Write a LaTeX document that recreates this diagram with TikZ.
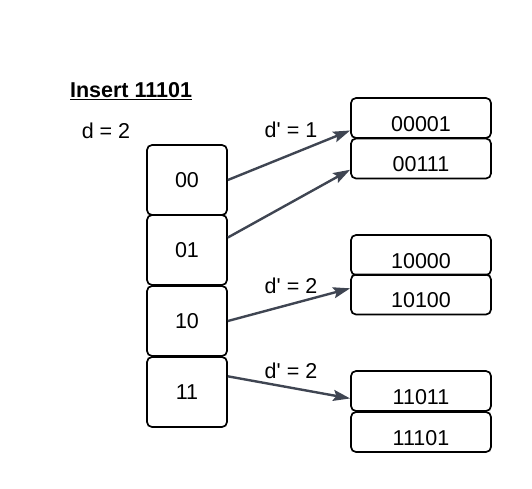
\documentclass[tikz,border=0pt]{standalone}
\usepackage{fontspec}
\setmainfont{Liberation Sans}
\usetikzlibrary{arrows.meta}
\definecolor{arrowgray}{HTML}{3F4552}
\begin{document}
\begin{tikzpicture}[x=1pt,y=-1pt,
	every node/.style={font=\fontsize{21.5}{25}\selectfont, inner sep=0pt},
	dirbox/.style={draw, line width=1.7pt, rounded corners=5pt, minimum width=80pt, minimum height=70pt},
	pagebox/.style={draw, line width=1.7pt, rounded corners=5pt, minimum width=140pt, minimum height=40pt, text height=26pt, text depth=0pt},
	ptr/.style={draw=arrowgray, line width=2.4pt, -{Stealth[length=17pt,width=11pt,inset=3pt]}}
	]
			\useasboundingbox (0,0) rectangle (532,488);

			\node (title) at (131,91) {\underline{\textbf{Insert 11101}}};
			\node (depth) at (106,131) {d = 2};

			\node[dirbox] (00) at (187,180) {00};
			\node[dirbox] (01) at (187,250) {01};
			\node[dirbox] (10) at (187,321) {10};
			\node[dirbox] (11) at (187,392) {11};

			\node[pagebox] (00001) at (421,118) {00001};
			\node[pagebox] (00111) at (421,158.5) {00111};
			\node[pagebox] (10000) at (421,255) {10000};
			\node[pagebox] (10100) at (421,294.5) {10100};
			\node[pagebox] (11011) at (421,391) {11011};
			\node[pagebox] (11101) at (421,432) {11101};

			\node (ld1) at (291,130) {d\textquotesingle{} = 1};
			\node (ld2) at (291,286) {d\textquotesingle{} = 2};
			\node (ld3) at (291,371) {d\textquotesingle{} = 2};

			\draw[ptr] (00.east) -- (00001.190);
			\draw[ptr] (01.17) -- (00111.189);
			\draw[ptr] (10.east) -- (10100.175);
			\draw[ptr] (11.21) -- (11011.186);
		\end{tikzpicture}
\end{document}
